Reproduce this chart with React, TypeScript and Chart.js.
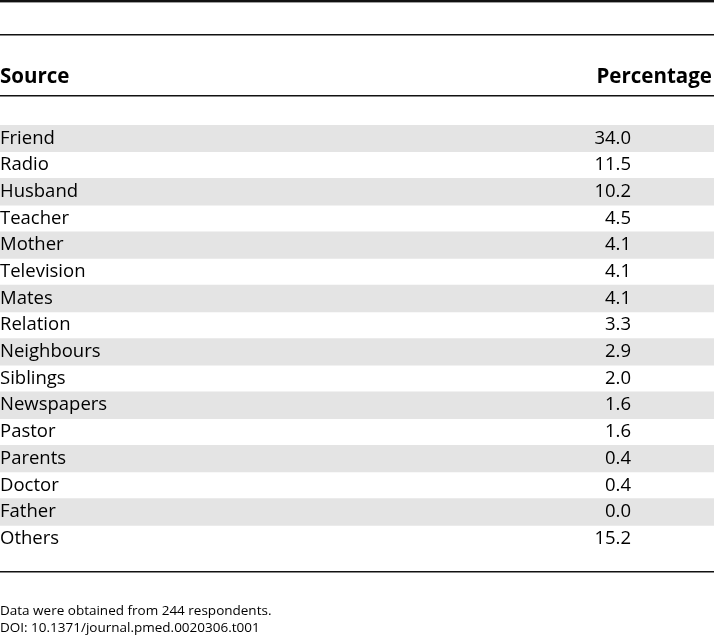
import React, { useEffect, useRef } from 'react';
import { Chart, registerables } from 'chart.js';

Chart.register(...registerables);

const sources = [
  'Friend', 'Radio', 'Husband', 'Teacher', 'Mother', 'Television', 'Mates', 'Relation',
  'Neighbours', 'Siblings', 'Newspapers', 'Pastor', 'Parents', 'Doctor', 'Father', 'Others',
];
const percentages = [34.0, 11.5, 10.2, 4.5, 4.1, 4.1, 4.1, 3.3, 2.9, 2.0, 1.6, 1.6, 0.4, 0.4, 0.0, 15.2];
const headers = ['Source', 'Percentage'];
const notes = ['Data were obtained from 244 respondents.', 'DOI: 10.1371/journal.pmed.0020306.t001'];

const FONT = "'Open Sans', 'Noto Sans', sans-serif";
const W = 714;
const H = 641;

export default function App() {
  const ref = useRef<HTMLCanvasElement | null>(null);

  useEffect(() => {
    if (!ref.current) return;

    const tablePlugin = {
      id: 'tableText',
      afterDraw(chart: any) {
        const ctx = chart.ctx as CanvasRenderingContext2D;
        const y = chart.scales.y;
        ctx.save();
        // rules
        ctx.fillStyle = '#111';
        ctx.fillRect(0, 0, W, 2.4);
        ctx.fillRect(0, 34, W, 1.5);
        ctx.fillRect(0, 95, W, 1.5);
        ctx.fillRect(0, 571, W, 1.5);
        // headers
        ctx.fillStyle = '#000';
        ctx.font = `bold 20.5px ${FONT}`;
        ctx.textBaseline = 'alphabetic';
        ctx.textAlign = 'left';
        ctx.fillText(headers[0], 0, 82.5);
        ctx.fillText(headers[1], 596.5, 82.5);
        // rows
        ctx.font = `18.5px ${FONT}`;
        ctx.textBaseline = 'middle';
        sources.forEach((s, i) => {
          const py = y.getPixelForValue(i);
          ctx.textAlign = 'left';
          ctx.fillText(s, 0, py);
          ctx.textAlign = 'right';
          ctx.fillText(percentages[i].toFixed(1), 631, py);
        });
        // notes
        ctx.font = `13.5px ${FONT}`;
        ctx.textAlign = 'left';
        ctx.textBaseline = 'alphabetic';
        ctx.fillText(notes[0], 0, 615);
        ctx.fillText(notes[1], 0, 632);
        ctx.restore();
      },
    };

    const chart = new Chart(ref.current, {
      type: 'bar',
      data: {
        labels: sources,
        datasets: [
          {
            label: 'stripes',
            data: sources.map((_, i) => (i % 2 === 0 ? [0, 1] : null)) as any,
            backgroundColor: '#e4e4e4',
            borderWidth: 0,
            barPercentage: 1,
            categoryPercentage: 1,
          },
        ],
      },
      options: {
        indexAxis: 'y',
        responsive: false,
        animation: false,
        layout: { padding: { top: 125, bottom: 89, left: 0, right: 0 } },
        plugins: { legend: { display: false }, tooltip: { enabled: false }, title: { display: false } },
        scales: {
          x: { type: 'linear', min: 0, max: 1, display: false },
          y: { type: 'category', display: false },
        },
      },
      plugins: [tablePlugin],
    });
    return () => chart.destroy();
  }, []);

  return (
    <div style={{ position: 'absolute', left: 0, top: 0, width: W, height: H, background: '#fff' }}>
      <canvas ref={ref} width={W} height={H} style={{ display: 'block' }} />
    </div>
  );
}
